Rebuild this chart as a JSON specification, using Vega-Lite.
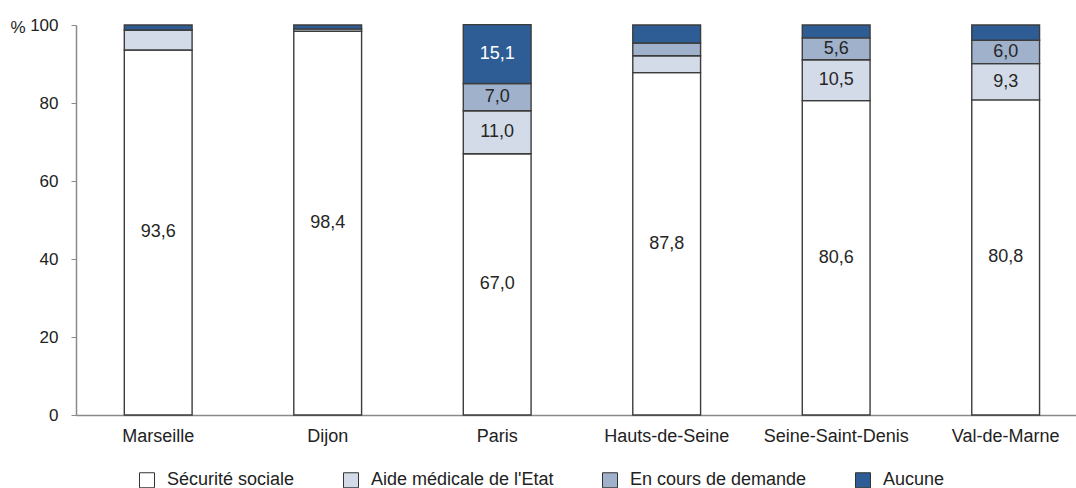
{
  "$schema": "https://vega.github.io/schema/vega-lite/v6.json",
  "autosize": "none",
  "width": 1000,
  "height": 390,
  "padding": {"left": 76, "top": 25, "right": 0, "bottom": 73},
  "background": "white",
  "config": {
    "view": {"stroke": null},
    "font": "Liberation Sans",
    "locale": {"number": {"decimal": ",", "thousands": " ", "grouping": [3], "currency": ["", " €"]}}
  },
  "data": {
    "values": [
      {"city": "Marseille", "category": "Sécurité sociale", "rank": 1, "value": 93.6, "label": "93,6"},
      {"city": "Marseille", "category": "Aide médicale de l'Etat", "rank": 2, "value": 5.1, "label": ""},
      {"city": "Marseille", "category": "En cours de demande", "rank": 3, "value": 0.0, "label": ""},
      {"city": "Marseille", "category": "Aucune", "rank": 4, "value": 1.3, "label": ""},
      {"city": "Dijon", "category": "Sécurité sociale", "rank": 1, "value": 98.4, "label": "98,4"},
      {"city": "Dijon", "category": "Aide médicale de l'Etat", "rank": 2, "value": 0.6, "label": ""},
      {"city": "Dijon", "category": "En cours de demande", "rank": 3, "value": 0.0, "label": ""},
      {"city": "Dijon", "category": "Aucune", "rank": 4, "value": 1.0, "label": ""},
      {"city": "Paris", "category": "Sécurité sociale", "rank": 1, "value": 67.0, "label": "67,0"},
      {"city": "Paris", "category": "Aide médicale de l'Etat", "rank": 2, "value": 11.0, "label": "11,0"},
      {"city": "Paris", "category": "En cours de demande", "rank": 3, "value": 7.0, "label": "7,0"},
      {"city": "Paris", "category": "Aucune", "rank": 4, "value": 15.1, "label": "15,1"},
      {"city": "Hauts-de-Seine", "category": "Sécurité sociale", "rank": 1, "value": 87.8, "label": "87,8"},
      {"city": "Hauts-de-Seine", "category": "Aide médicale de l'Etat", "rank": 2, "value": 4.3, "label": ""},
      {"city": "Hauts-de-Seine", "category": "En cours de demande", "rank": 3, "value": 3.3, "label": ""},
      {"city": "Hauts-de-Seine", "category": "Aucune", "rank": 4, "value": 4.6, "label": ""},
      {"city": "Seine-Saint-Denis", "category": "Sécurité sociale", "rank": 1, "value": 80.6, "label": "80,6"},
      {"city": "Seine-Saint-Denis", "category": "Aide médicale de l'Etat", "rank": 2, "value": 10.5, "label": "10,5"},
      {"city": "Seine-Saint-Denis", "category": "En cours de demande", "rank": 3, "value": 5.6, "label": "5,6"},
      {"city": "Seine-Saint-Denis", "category": "Aucune", "rank": 4, "value": 3.3, "label": ""},
      {"city": "Val-de-Marne", "category": "Sécurité sociale", "rank": 1, "value": 80.8, "label": "80,8"},
      {"city": "Val-de-Marne", "category": "Aide médicale de l'Etat", "rank": 2, "value": 9.3, "label": "9,3"},
      {"city": "Val-de-Marne", "category": "En cours de demande", "rank": 3, "value": 6.0, "label": "6,0"},
      {"city": "Val-de-Marne", "category": "Aucune", "rank": 4, "value": 3.9, "label": ""}
    ]
  },
  "transform": [
    {"stack": "value", "groupby": ["city"], "sort": [{"field": "rank", "order": "ascending"}], "as": ["v0", "v1"]}
  ],
  "encoding": {
    "x": {
      "field": "city",
      "type": "nominal",
      "sort": ["Marseille", "Dijon", "Paris", "Hauts-de-Seine", "Seine-Saint-Denis", "Val-de-Marne"],
      "scale": {"paddingInner": 0.6, "paddingOuter": 0.25, "align": 0.57},
      "axis": {
        "title": null,
        "labelAngle": 0,
        "labelFontSize": 18,
        "labelColor": "#222222",
        "labelPadding": 12,
        "ticks": false,
        "domainColor": "#8a8a8a",
        "domainWidth": 1.5
      }
    }
  },
  "layer": [
    {
      "mark": {"type": "bar", "stroke": "#3c3c3c", "strokeWidth": 1.4},
      "encoding": {
        "y": {
          "field": "v0",
          "type": "quantitative",
          "scale": {"domain": [0, 100], "nice": false},
          "axis": {
            "values": [0, 20, 40, 60, 80, 100],
            "title": "%",
            "titleAngle": 0,
            "titleAlign": "left",
            "titleBaseline": "middle",
            "titleX": -66,
            "titleY": 2,
            "titleFontSize": 17,
            "titleFontWeight": "normal",
            "titleColor": "#222222",
            "labelFontSize": 17,
            "labelColor": "#222222",
            "labelPadding": 13,
            "tickSize": 5,
            "tickColor": "#8a8a8a",
            "domainColor": "#8a8a8a",
            "domainWidth": 1.5,
            "grid": false
          }
        },
        "y2": {"field": "v1"},
        "color": {
          "field": "category",
          "type": "nominal",
          "scale": {
            "domain": ["Sécurité sociale", "Aide médicale de l'Etat", "En cours de demande", "Aucune"],
            "range": ["#ffffff", "#d3dbe8", "#9fb1cb", "#2e5d96"]
          },
          "legend": {
            "title": null,
            "orient": "none",
            "direction": "horizontal",
            "legendX": 62,
            "legendY": 446,
            "symbolType": "square",
            "symbolSize": 225,
            "symbolStrokeColor": "#333333",
            "symbolStrokeWidth": 1,
            "labelFontSize": 18,
            "labelColor": "#222222",
            "labelOffset": 11,
            "labelLimit": 400,
            "columnPadding": 46
          }
        }
      }
    },
    {
      "transform": [
        {"filter": "datum.label != ''"},
        {"fold": ["v0", "v1"], "as": ["edge", "pos"]},
        {"aggregate": [{"op": "mean", "field": "pos", "as": "mid"}], "groupby": ["city", "category", "label"]}
      ],
      "mark": {"type": "text", "fontSize": 18, "baseline": "middle", "align": "center"},
      "encoding": {
        "y": {"field": "mid", "type": "quantitative"},
        "text": {"field": "label"},
        "color": {
          "condition": {"test": "datum.category === 'Aucune'", "value": "#ffffff"},
          "value": "#262626"
        }
      }
    }
  ]
}
